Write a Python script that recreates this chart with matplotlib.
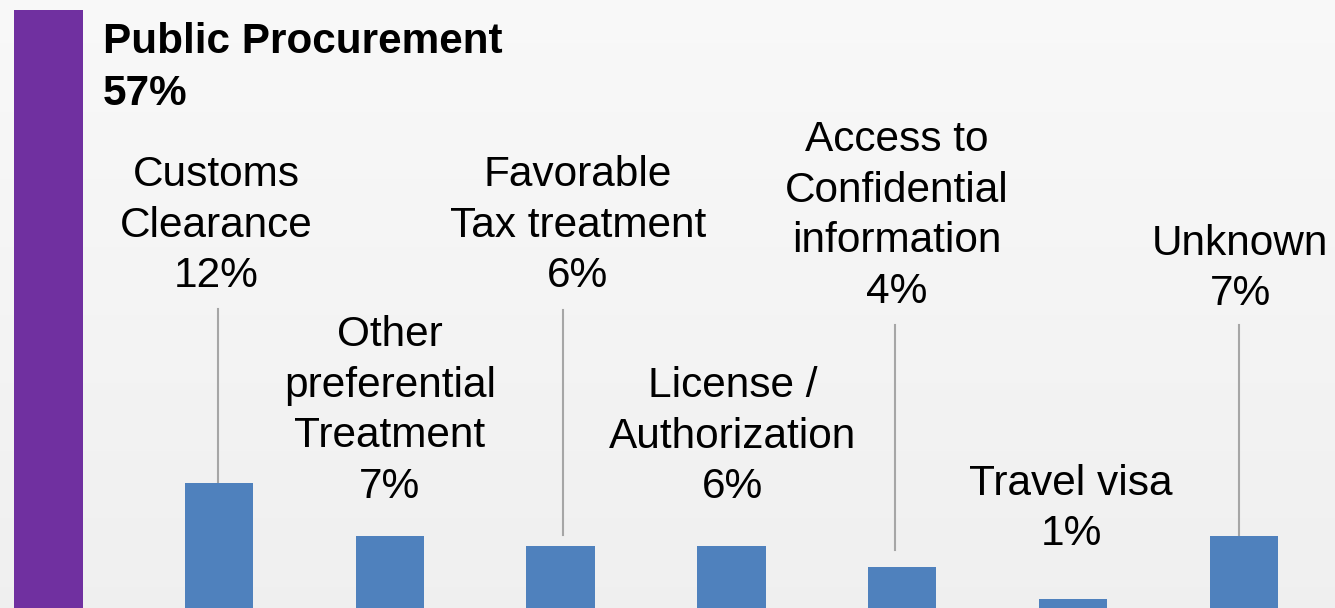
import numpy as np
import matplotlib.pyplot as plt

# data
categories = ['Customs\nClearance', 'Other\npreferential\nTreatment', 'Favorable\nTax treatment',
              'License /\nAuthorization', 'Access to\nConfidential\ninformation', 'Travel visa', 'Unknown']
values = [12, 7, 6, 6, 4, 1, 7]
title_name = 'Public Procurement'
title_value = 57

# label layout (data units)
label_x = [-0.018, 1.001, 2.101, 3.009, 3.97, 4.988, 5.978]
label_y = [36.3, 18.8, 36.3, 16.35, 37.25, 9.5, 32.2]
# leader lines: x, top y, gap to bar top
leader_x = [-0.006, None, 2.014, None, 3.958, None, 5.972]
leader_top = [28.4, None, 28.3, None, 26.9, None, 26.9]
leader_gap = [-0.5, None, 1.06, None, 1.64, None, 0.06]

plt.rcParams['font.family'] = ['Liberation Sans', 'DejaVu Sans']

fig = plt.figure(figsize=(13.35, 6.08), dpi=100)

# background gradient
bg = fig.add_axes([0, 0, 1, 1], zorder=0)
grad = np.linspace(0.975, 0.94, 256).reshape(-1, 1)
bg.imshow(np.dstack([grad, grad, grad]), aspect='auto', extent=[0, 1, 0, 1], origin='upper')
bg.set_xlim(0, 1)
bg.set_ylim(0, 1)
bg.axis('off')
# purple side strip
bg.add_patch(plt.Rectangle((14 / 1335, 0), 69 / 1335, 1 - 10 / 608, color='#7030A0', lw=0))

ax = fig.add_axes([0, 0, 1, 1], zorder=1)
ax.patch.set_alpha(0)
x = np.arange(len(values))
ax.bar(x, values, width=0.4, color='#4F81BD')

for i, (cat, v) in enumerate(zip(categories, values)):
    ax.text(label_x[i], label_y[i], '{0}\n{1}%'.format(cat, v), ha='center', va='center',
            fontsize=30.5, linespacing=1.34, color='black')
    if leader_x[i] is not None:
        ax.plot([leader_x[i], leader_x[i]], [leader_top[i], v + leader_gap[i]],
                color='#A6A6A6', lw=1.5, zorder=0)

ax.set_xlim(-219 / 170.8, (1335 - 219) / 170.8)
ax.set_ylim(0.15, 57.67)
ax.axis('off')

fig.text(103 / 1335, 1 - 22 / 608, '{0}\n{1}%'.format(title_name, title_value), ha='left', va='top',
         fontsize=30.4, fontweight='bold', linespacing=1.38)

fig.savefig('out.png', dpi=100)
